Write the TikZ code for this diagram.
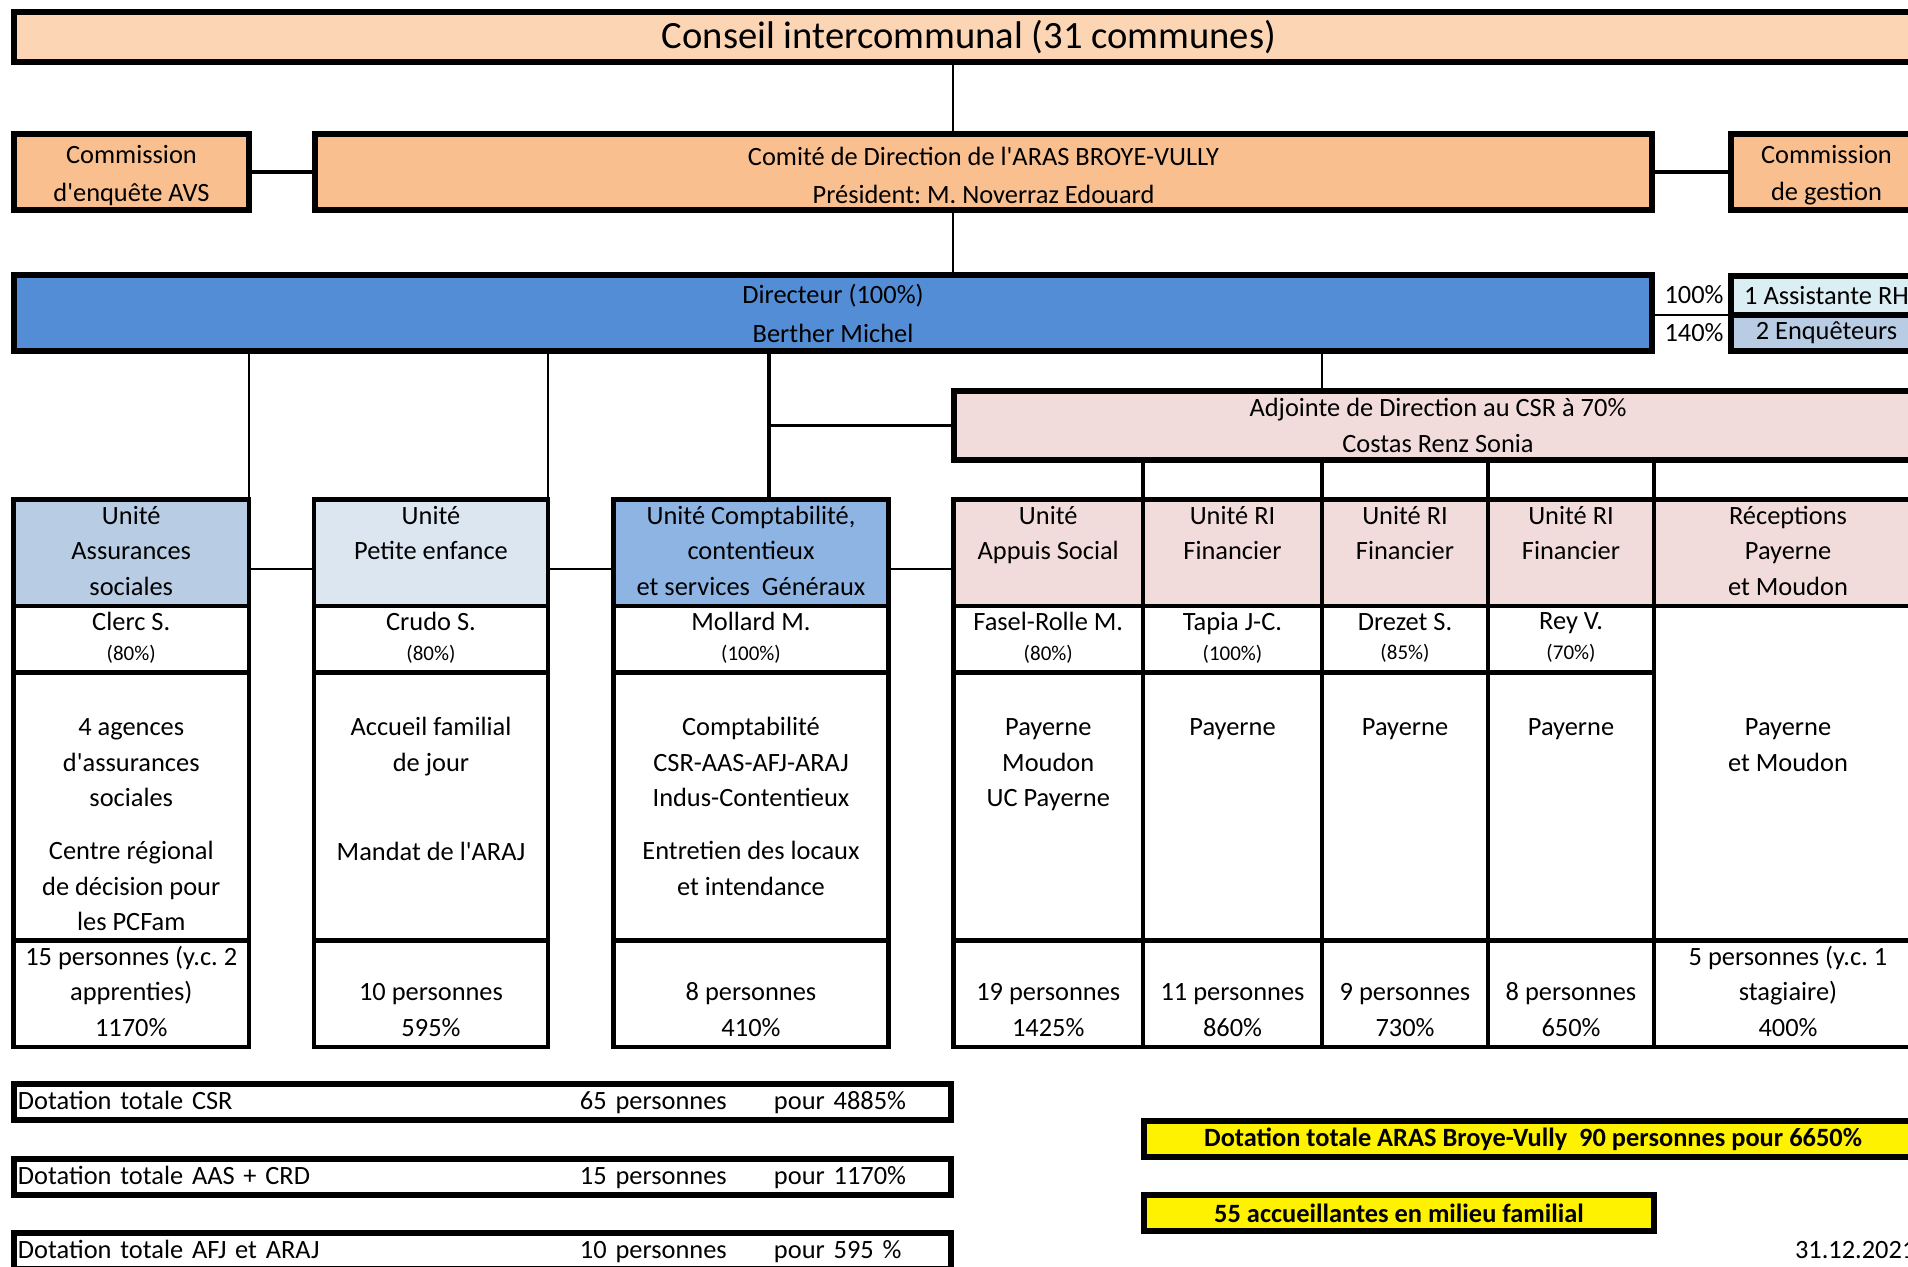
\documentclass[tikz,border=0pt]{standalone}
\usepackage{fontspec}
\setmainfont{Carlito}[Ligatures=TeXOff]
\usetikzlibrary{positioning}
\frenchspacing

\definecolor{councilfill}{HTML}{FCD5B4}
\definecolor{boardfill}{HTML}{FABF8F}
\definecolor{directorfill}{HTML}{538DD5}
\definecolor{hrfill}{HTML}{DAEEF3}
\definecolor{greyblue}{HTML}{B8CCE4}
\definecolor{paleblue}{HTML}{DCE6F1}
\definecolor{midblue}{HTML}{8DB4E2}
\definecolor{csrfill}{HTML}{F2DCDB}
\newcommand\taux[1]{{\fontsize{10.5}{12}\selectfont(#1\%)}\rule[-3pt]{0pt}{3pt}}

\begin{document}
\begin{tikzpicture}[x=0.5pt, y=-0.5pt, node distance=0pt,
  every node/.style={outer sep=0pt, inner sep=0pt, align=center, font={\fontsize{13.2}{17.75}\selectfont}},
  box/.style={draw, line width=3pt, anchor=north west},
  cell/.style={draw, line width=2.4pt},
  head/.style={cell, anchor=north west, minimum height=53pt},
  who/.style={cell, minimum height=33.25pt},
  task/.style={cell, minimum height=134pt},
  staff/.style={cell, minimum height=52.25pt},
  total/.style={box, minimum height=18pt, text width=464.5pt, inner xsep=2pt, align=left},
  flag/.style={box, fill=yellow, minimum height=18pt, font={\fontsize{13.2}{17.75}\selectfont\bfseries}},
  conn/.style={line width=1pt},
  link/.style={line width=1.6pt}]
\useasboundingbox (0,0) rectangle (1908,1267);

% top of the chart
\node[box, fill=councilfill, minimum width=955pt, minimum height=25pt, font={\fontsize{19.3}{23}\selectfont}] (council) at (14,12) {Conseil intercommunal (31 communes)};
\node[box, fill=boardfill, minimum width=117.5pt, minimum height=38pt] (avs) at (14,134) {\strut Commission\\[1pt]d'enquête AVS};
\node[box, fill=boardfill, minimum width=668.5pt, minimum height=38pt] (board) at (315,134) {\strut Comité de Direction de l'ARAS BROYE-VULLY\\[1pt]Président: M. Noverraz Edouard};
\node[box, fill=boardfill, minimum width=95.5pt, minimum height=38pt] (audit) at (1731,134) {\strut Commission\\[1pt]de gestion};
\node[box, fill=directorfill, minimum width=819pt, minimum height=38pt] (dir) at (14,275) {Directeur (100\%)\\[1.75pt]Berther Michel};
\node[box, fill=hrfill, minimum width=95.5pt, minimum height=19.5pt] (hr) at (1731,276) {1 Assistante RH};
\node[box, fill=greyblue, minimum width=95.5pt, minimum height=18pt, below=of hr] (inv) {2 Enquêteurs};
\node (p100) at (1694,295) {100\%};
\node (p140) at (1694,333) {140\%};
\node[box, fill=csrfill, minimum width=484pt, minimum height=34.5pt] (adj) at (954,391) {Adjointe de Direction au CSR à 70\%\\Costas Renz Sonia};

% units
\node[head, fill=greyblue, minimum width=117.75pt] (u1h) at (13.5,499.5) {\strut Unité\\Assurances\\sociales\strut};
\node[who, minimum width=117.75pt, below=of u1h] (u1n) {Clerc S.\\[-3pt]\taux{80}};
\node[task, minimum width=117.75pt, below=of u1n] (u1c) {};
\node[staff, minimum width=117.75pt, below=of u1c] (u1s) {\strut 15 personnes (y.c. 2\\apprenties)\\1170\%\strut};
\node[below=19.3pt of u1c.north] (u1t) {\strut 4 agences\\d'assurances\\sociales\\[8.75pt]Centre régional\\de décision pour\\les PCFam};

\node[head, fill=paleblue, minimum width=117pt] (u2h) at (314,499.5) {\strut Unité\\Petite enfance\\\strut};
\node[who, minimum width=117pt, below=of u2h] (u2n) {Crudo S.\\[-3pt]\taux{80}};
\node[task, minimum width=117pt, below=of u2n] (u2c) {};
\node[staff, minimum width=117pt, below=of u2c] (u2s) {\strut\\10 personnes\\595\%\strut};
\node[below=19.3pt of u2c.north] (u2t) {\strut Accueil familial\\de jour\\[26.75pt]Mandat de l'ARAJ};

\node[head, fill=midblue, minimum width=137.5pt] (u3h) at (613.5,499.5) {\strut Unité Comptabilité,\\contentieux\\et services~ Généraux\strut};
\node[who, minimum width=137.5pt, below=of u3h] (u3n) {Mollard M.\\[-3pt]\taux{100}};
\node[task, minimum width=137.5pt, below=of u3n] (u3c) {};
\node[staff, minimum width=137.5pt, below=of u3c] (u3s) {\strut\\8 personnes\\410\%\strut};
\node[below=19.3pt of u3c.north] (u3t) {\strut Comptabilité\\CSR-AAS-AFJ-ARAJ\\Indus-Contentieux\\[8.75pt]Entretien des locaux\\et intendance};

\node[head, fill=csrfill, minimum width=94.75pt] (u4h) at (953.5,499.5) {\strut Unité\\Appuis Social\\\strut};
\node[who, minimum width=94.75pt, below=of u4h] (u4n) {Fasel-Rolle M.\\[-3pt]\taux{80}};
\node[task, minimum width=94.75pt, below=of u4n] (u4c) {};
\node[staff, minimum width=94.75pt, below=of u4c] (u4s) {\strut\\19 personnes\\1425\%\strut};
\node[below=19.3pt of u4c.north] (u4t) {\strut Payerne\\Moudon\\UC Payerne};

\node[head, fill=csrfill, minimum width=89.5pt] (u5h) at (1143,499.5) {\strut Unité RI\\Financier\\\strut};
\node[who, minimum width=89.5pt, below=of u5h] (u5n) {Tapia J-C.\\[-3pt]\taux{100}};
\node[task, minimum width=89.5pt, below=of u5n] (u5c) {};
\node[staff, minimum width=89.5pt, below=of u5c] (u5s) {\strut\\11 personnes\\860\%\strut};
\node[below=19.3pt of u5c.north] (u5t) {\strut Payerne};

\node[head, fill=csrfill, minimum width=83pt] (u6h) at (1322,499.5) {\strut Unité RI\\Financier\\\strut};
\node[who, minimum width=83pt, below=of u6h] (u6n) {Drezet S.\\[-3pt]\taux{85}};
\node[task, minimum width=83pt, below=of u6n] (u6c) {};
\node[staff, minimum width=83pt, below=of u6c] (u6s) {\strut\\9 personnes\\730\%\strut};
\node[below=19.3pt of u6c.north] (u6t) {\strut Payerne};

\node[head, fill=csrfill, minimum width=83pt] (u7h) at (1488,499.5) {\strut Unité RI\\Financier\\\strut};
\node[who, minimum width=83pt, below=of u7h] (u7n) {Rey V.\\[-3pt]\taux{70}};
\node[task, minimum width=83pt, below=of u7n] (u7c) {};
\node[staff, minimum width=83pt, below=of u7c] (u7s) {\strut\\8 personnes\\650\%\strut};
\node[below=19.3pt of u7c.north] (u7t) {\strut Payerne};

\node[head, fill=csrfill, minimum width=134pt] (u8h) at (1654,499.5) {\strut Réceptions\\Payerne\\et Moudon\strut};
\node[cell, minimum width=134pt, minimum height=167.25pt, below=of u8h] (u8c) {};
\node[staff, minimum width=134pt, below=of u8c] (u8s) {\strut 5 personnes (y.c. 1\\stagiaire)\\400\%\strut};
\node[below=52.55pt of u8c.north] (u8t) {\strut Payerne\\et Moudon};

% totals
\node[total] (sumcsr) at (14,1084) {\makebox[281pt][l]{Dotation totale CSR}\makebox[97pt][l]{65 personnes}pour 4885\%};
\node[total] (sumaas) at (14,1159) {\makebox[281pt][l]{Dotation totale AAS + CRD}\makebox[97pt][l]{15 personnes}pour 1170\%};
\node[total] (sumafj) at (14,1233) {\makebox[281pt][l]{Dotation totale AFJ et ARAJ}\makebox[97pt][l]{10 personnes}pour 595 \%};
\node[flag, minimum width=389pt] (sumaras) at (1144,1121) {Dotation totale ARAS Broye-Vully~ 90 personnes pour 6650\%};
\node[flag, minimum width=255pt] (foster) at (1144,1195) {55 accueillantes en milieu familial};
\node[anchor=west] (stamp) at (1795,1250) {31.12.2021};

% connectors
\coordinate (spine) at (953,0);
\coordinate (accline) at (769,0);
\draw[conn] (council.south -| spine) -- (board.north -| spine);
\draw[conn] (board.south -| spine) -- (dir.north -| spine);
\draw[link] (avs) -- (board);
\draw[link] (board) -- (audit);
\draw[conn] (dir.east |- hr.south) -- (hr.south west);
\draw[conn] (dir.south -| u1h.north east) -- (u1h.north east);
\draw[conn] (dir.south -| u2h.north east) -- (u2h.north east);
\draw[link] (dir.south -| accline) -- (u3h.north -| accline);
\draw[link] (accline |- adj.west) -- (adj.west);
\draw[conn] (dir.south -| u6h.north west) -- (adj.north -| u6h.north west);
\foreach \u in {u5h,u6h,u7h,u8h}
  \draw[link] (adj.south -| \u.north west) -- (\u.north west);
\draw[conn] ([yshift=-8.25pt]u1h.east) -- ([yshift=-8.25pt]u2h.west);
\draw[conn] ([yshift=-8.25pt]u2h.east) -- ([yshift=-8.25pt]u3h.west);
\draw[conn] ([yshift=-8.25pt]u3h.east) -- ([yshift=-8.25pt]u4h.west);
\end{tikzpicture}
\end{document}
